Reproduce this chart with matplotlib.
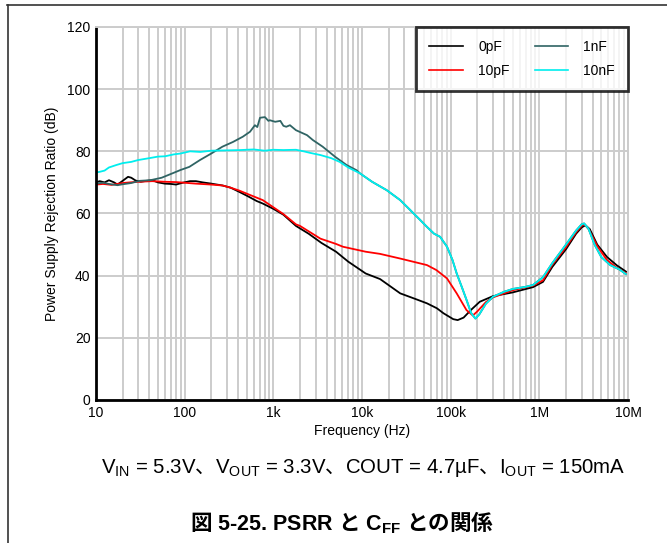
import matplotlib
matplotlib.use("Agg")
import matplotlib.pyplot as plt
from matplotlib.lines import Line2D

plt.rcParams['font.family'] = ['Liberation Sans', 'Noto Sans CJK JP', 'DejaVu Sans']
plt.rcParams['mathtext.fontset'] = 'custom'
plt.rcParams['mathtext.rm'] = 'Liberation Sans'
plt.rcParams['mathtext.bf'] = 'Liberation Sans:bold'
plt.rcParams['mathtext.sf'] = 'Noto Sans CJK JP'
plt.rcParams['mathtext.it'] = 'Noto Sans CJK JP:bold'

# PSRR vs frequency for each feed-forward capacitor value
f_0pF = [10, 11, 12.5, 14, 16, 17.5, 20, 23, 25, 28, 32, 37, 43, 50, 60, 70, 80, 95,
         115, 134, 160, 200, 268, 330, 410, 520, 650, 760, 1000, 1300, 1800, 2500,
         3500, 5100, 7000, 11000, 16000, 27000, 40000, 54000, 70000, 83000, 107000,
         120000, 140000, 170000, 213000, 300000, 500000, 850000, 1.1e6, 1.4e6, 2e6,
         2.6e6, 3.0e6, 3.3e6, 3.7e6, 4.5e6, 5.8e6, 7.5e6, 9.5e6]
psrr_0pF = [70.0, 70.4, 70.0, 70.7, 70.0, 69.3, 70.5, 71.8, 71.5, 70.6, 70.2, 70.5,
            70.7, 70.0, 69.6, 69.5, 69.3, 69.9, 70.4, 70.4, 70.0, 69.6, 69.0, 68.3,
            67.0, 65.5, 64.0, 63.2, 61.5, 59.6, 56.0, 53.5, 50.5, 47.7, 44.5, 40.7,
            38.9, 34.3, 32.5, 31.1, 29.5, 27.9, 26.0, 25.7, 26.5, 29.0, 31.6, 33.4,
            34.6, 36.3, 38.0, 42.8, 48.5, 53.5, 55.5, 56.2, 55.0, 50.0, 46.0, 43.3,
            41.3]

f_10pF = [10, 12, 15, 20, 24, 30, 43, 60, 80, 134, 200, 268, 330, 410, 520, 760,
          1000, 1300, 1800, 2000, 3400, 5100, 6100, 11000, 16000, 27000, 54000,
          69000, 91000, 117000, 151000, 178000, 200000, 250000, 300000, 500000,
          850000, 1.1e6, 1.4e6, 2e6, 2.6e6, 3.0e6, 3.2e6, 3.6e6, 4.5e6, 5.8e6,
          7.5e6, 9.5e6]
psrr_10pF = [69.3, 69.5, 69.2, 69.8, 70.0, 70.2, 70.4, 70.2, 70.1, 69.6, 69.3, 69.0,
             68.3, 67.4, 66.2, 64.3, 62.0, 59.8, 56.5, 56.0, 51.9, 50.2, 49.3, 47.7,
             47.0, 45.5, 43.4, 41.8, 39.1, 34.3, 28.9, 27.2, 28.5, 31.5, 33.0, 35.3,
             36.8, 38.5, 43.5, 49.2, 54.0, 56.0, 56.6, 55.0, 49.5, 45.0, 42.5, 40.8]

f_10nF = [10, 11, 12.5, 14, 17, 20, 25, 30, 40, 50, 60, 75, 90, 115, 150, 200, 300,
          420, 600, 800, 1000, 1300, 1800, 2200, 2600, 3400, 4500, 5600, 7000, 9500,
          13000, 19000, 27000, 35000, 45000, 54000, 65000, 76000, 91000, 105000,
          117000, 135000, 151000, 170000, 190000, 210000, 250000, 300000, 400000,
          500000, 700000, 850000, 1.1e6, 1.4e6, 2e6, 2.6e6, 3.0e6, 3.2e6, 3.6e6,
          4.2e6, 5e6, 6.3e6, 8e6, 9.5e6]
psrr_10nF = [73.2, 73.4, 73.8, 74.8, 75.6, 76.2, 76.6, 77.2, 77.8, 78.3, 78.4, 79.0,
             79.3, 80.0, 79.8, 80.2, 80.3, 80.4, 80.6, 80.2, 80.5, 80.4, 80.5, 80.0,
             79.5, 78.8, 77.8, 76.6, 74.8, 72.9, 70.2, 67.5, 64.3, 61.1, 58.0, 55.7,
             53.5, 52.5, 49.3, 45.0, 40.7, 36.0, 32.2, 28.0, 26.2, 27.5, 31.0, 33.2,
             34.8, 35.7, 36.4, 37.0, 39.5, 44.0, 50.0, 54.5, 56.5, 56.8, 55.0, 50.0,
             46.0, 43.4, 42.0, 40.5]

# above ~9 kHz the 1nF trace sits under the 10nF trace
f_1nF = [10, 12, 14, 17.5, 20, 25, 31, 41, 55, 74, 90, 113, 149, 200, 267, 350, 453,
         546, 620, 660, 708, 805, 880, 913, 1050, 1200, 1300, 1400, 1540, 1800, 2400,
         2800, 3600, 5000, 6700, 8700] + f_10nF[29:]
psrr_1nF = [69.6, 69.9, 69.5, 69.1, 69.4, 69.8, 70.5, 70.7, 71.5, 73.0, 74.0, 75.0,
            77.2, 79.3, 81.5, 83.0, 84.7, 86.3, 88.4, 87.8, 90.8, 91.0, 89.8, 90.0,
            89.5, 89.8, 88.2, 87.9, 88.4, 86.8, 85.2, 83.6, 81.5, 78.2, 75.6,
            73.9] + psrr_10nF[29:]

x_ticks = [10, 100, 1e3, 1e4, 1e5, 1e6, 1e7]
x_tick_labels = ["10", "100", "1k", "10k", "100k", "1M", "10M"]
y_ticks = [0, 20, 40, 60, 80, 100, 120]

fig = plt.figure(figsize=(6.67, 5.43), dpi=100)
ax = fig.add_axes([0.1439, 0.2634, 0.7976, 0.6869])

ax.plot(f_0pF, psrr_0pF, color='black', lw=1.3, label='0pF')
ax.plot(f_10pF, psrr_10pF, color='#ff0000', lw=1.3, label='10pF')
ax.plot(f_1nF, psrr_1nF, color='#2f6464', lw=1.3, label='1nF')
ax.plot(f_10nF, psrr_10nF, color='#00eeee', lw=1.3, label='10nF')

ax.set_xscale('log')
ax.set_xlim(10, 1e7)
ax.set_ylim(0, 120)
ax.set_xticks(x_ticks)
ax.set_xticklabels(x_tick_labels)
ax.set_yticks(y_ticks)
ax.tick_params(axis='both', which='both', length=0, labelsize=10, pad=4)
ax.grid(True, which='major', color='#cccccc', lw=1.4)
ax.grid(True, which='minor', axis='x', color='#cccccc', lw=1.4)
ax.set_axisbelow(True)

for side in ['left', 'bottom']:
    ax.spines[side].set_linewidth(2)
    ax.spines[side].set_color('black')
for side in ['top', 'right']:
    ax.spines[side].set_linewidth(1.4)
    ax.spines[side].set_color('#cccccc')

ax.set_xlabel('Frequency (Hz)', fontsize=10, labelpad=3)
ax.set_ylabel('Power Supply Rejection Ratio (dB)', fontsize=10, labelpad=6)

leg = ax.legend(loc='upper right', ncol=2, fontsize=10, frameon=True, fancybox=False,
                borderaxespad=0, handlelength=2.4, handletextpad=1.1,
                columnspacing=1.8, borderpad=0.95, labelspacing=0.7)
leg.get_frame().set_edgecolor('black')
leg.get_frame().set_linewidth(2)
for ln in leg.get_lines():
    ln.set_linewidth(1.2)

fig.text(0.545, 0.138,
         r'V$_{\mathrm{IN}}$ = 5.3V$\mathsf{、}$V$_{\mathrm{OUT}}$ = 3.3V$\mathsf{、}$'
         r'COUT = 4.7µF$\mathsf{、}$I$_{\mathrm{OUT}}$ = 150mA',
         ha='center', va='center', fontsize=14.7)
fig.text(0.5135, 0.037,
         r'$\mathit{図}$ 5-25. PSRR $\mathit{と}$ C$_{\mathbf{FF}}$ $\mathit{との関係}$',
         ha='center', va='center', fontsize=15.5, fontweight='bold')

# page frame
fig.add_artist(Line2D([0.0105, 1.0], [0.9908, 0.9908], color='#333333', lw=1.2))
fig.add_artist(Line2D([0.012, 0.012], [0.0, 0.9908], color='#333333', lw=1.2))

fig.savefig('out.png', dpi=100)
